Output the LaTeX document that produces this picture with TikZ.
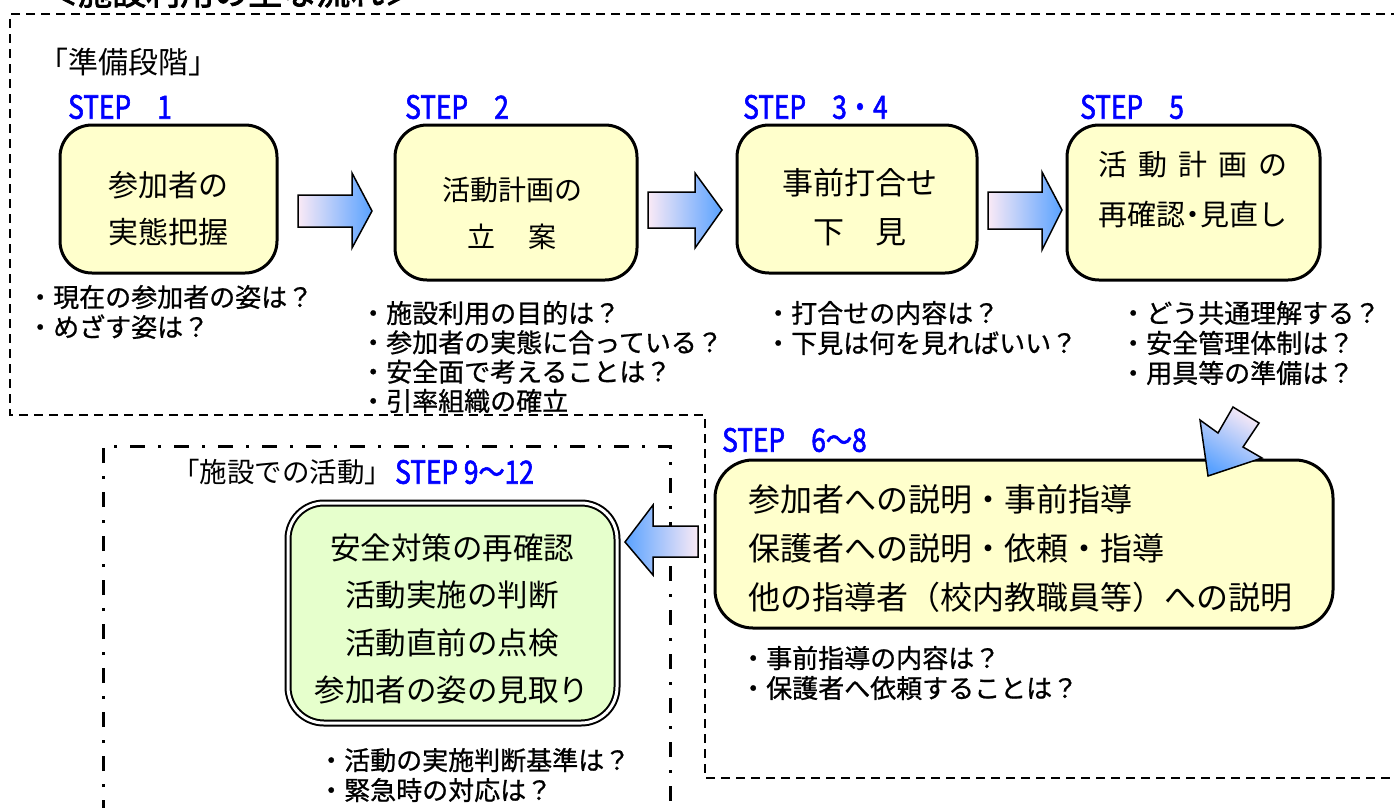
\documentclass[tikz,border=0pt]{standalone}
\usepackage{fontspec}
\setmainfont{Noto Sans CJK JP}
\newfontfamily\stepfont{Noto Sans CJK JP}[FakeBold=1.8,FakeStretch=0.82]
\newfontfamily\headfont{Noto Sans CJK JP}[FakeBold=2.5]
\newfontfamily\qfont{Noto Sans CJK JP}[FakeBold=0.8]
\usetikzlibrary{shadings}

\definecolor{boxyellow}{HTML}{FFFFCC}
\definecolor{boxgreen}{HTML}{E6FFCC}
\definecolor{stepblue}{HTML}{0000FF}
\definecolor{arrowpale}{HTML}{FAEAF6}
\definecolor{arrowblue}{HTML}{5AA2FF}

\tikzset{
    stepbox/.style={draw, line width=3pt, fill=boxyellow, rounded corners=32pt},
    boxtext/.style={align=center, inner sep=0pt, font=\fontsize{30}{47}\selectfont},
    qtext/.style={anchor=west, align=left, inner sep=0pt, font=\qfont\fontsize{26}{30}\selectfont},
    steplabel/.style={anchor=west, inner sep=0pt, text=stepblue, font=\stepfont\fontsize{32}{32}\selectfont},
    blockarrow/.style={draw, line width=1.5pt, line join=miter},
    outerline/.style={line width=2pt, dash pattern=on 9pt off 6pt},
    innerline/.style={line width=3pt, dash pattern=on 15pt off 13pt on 3pt off 13pt},
}

\begin{document}
\begin{tikzpicture}[x=1pt, y=-1pt]
                \useasboundingbox (0,0) rectangle (1394,807);

                % frames
                \draw[outerline] (1400,14) -- (10,14) -- (10,415) -- (705,415) -- (705,778) -- (1400,778);
                \draw[innerline] (103,815) -- (103,446) -- (670,446) -- (670,815);

                \node[anchor=west, inner sep=0pt, font=\headfont\fontsize{34}{34}\selectfont] (title) at (44,-8) {＜施設利用の主な流れ＞};
                \node[anchor=west, inner sep=0pt, font=\fontsize{30}{30}\selectfont] (prep) at (38,62) {「準備段階」};

                % step labels
                \node[steplabel] (s1) at (68,107) {STEP　1};
                \node[steplabel] (s2) at (405,107) {STEP　2};
                \node[steplabel] (s34) at (743,107) {STEP　3・4};
                \node[steplabel] (s5) at (1080,107) {STEP　5};
                \node[steplabel] (s68) at (722,440) {STEP　6〜8};
                \node[anchor=west, inner sep=0pt, font=\fontsize{27.5}{27.5}\selectfont] (onsite) at (172,472) {「施設での活動」};
                \node[steplabel] (s912) at (395,472) {STEP 9〜12};

                % boxes
                \node[stepbox, minimum width=217pt, minimum height=148pt] (box1) at (168.5,199) {};
                \node[stepbox, minimum width=242pt, minimum height=155pt] (box2) at (516,202.5) {};
                \node[stepbox, minimum width=240pt, minimum height=148pt] (box3) at (857,199) {};
                \node[stepbox, minimum width=253pt, minimum height=155pt] (box4) at (1193.5,202.5) {};
                \node[stepbox, minimum width=618pt, minimum height=168pt, rounded corners=38pt] (box5) at (1024,544) {};
                \node[draw, line width=2pt, double=white, double distance=3pt, fill=boxgreen, rounded corners=36pt,
                      minimum width=329pt, minimum height=220pt] (boxg) at (452.5,613) {};

                \node[boxtext] (t1) at ([yshift=-9.5pt]box1.center) {参加者の\\実態把握};
                \node[boxtext, font=\fontsize{28}{47}\selectfont] (t2) at ([xshift=-4pt, yshift=-11pt]box2.center) {活動計画の\\立\hspace{34pt}案};
                \node[boxtext, font=\fontsize{31}{49}\selectfont] (t3) at ([xshift=3pt, yshift=-8.5pt]box3.center) {事前打合せ\\下　見};
                \node[boxtext, anchor=west, align=left, font=\fontsize{29}{50}\selectfont] (t4) at (1098,190)
                     {活\hspace{11pt}動\hspace{11pt}計\hspace{11pt}画\hspace{11pt}の\\再確認\hspace{-7pt}・\hspace{-7pt}見直し};
                \node[boxtext, anchor=west, align=left, font=\fontsize{32}{49}\selectfont] (t5) at (748,549)
                     {参加者への説明・事前指導\\保護者への説明・依頼・指導\\他の指導者（校内教職員等）への説明};
                \node[boxtext, font=\fontsize{30.5}{47.3}\selectfont] (tg) at (452,619)
                     {安全対策の再確認\\活動実施の判断\\活動直前の点検\\参加者の姿の見取り};

                % questions
                \node[qtext] (q1) at (27,312) {・現在の参加者の姿は？\\・めざす姿は？};
                \node[qtext, font=\qfont\fontsize{26}{29.3}\selectfont] (q2) at (360,357)
                     {・施設利用の目的は？\\・参加者の実態に合っている？\\・安全面で考えることは？\\・引率組織の確立};
                \node[qtext] (q3) at (765,328) {・打合せの内容は？\\・下見は何を見ればいい？};
                \node[qtext] (q4) at (1120,343) {・どう共通理解する？\\・安全管理体制は？\\・用具等の準備は？};
                \node[qtext] (q5) at (740,673) {・事前指導の内容は？\\・保護者へ依頼することは？};
                \node[qtext] (q6) at (318,775) {・活動の実施判断基準は？\\・緊急時の対応は？};

                % block arrows
                \draw[blockarrow, left color=arrowpale, right color=arrowblue]
                     (298,195) -- (352,195) -- (352,173) -- (372,211) -- (352,248) -- (352,227) -- (298,227) -- cycle;
                \draw[blockarrow, left color=arrowpale, right color=arrowblue]
                     (648,192) -- (695,192) -- (695,173) -- (722,210) -- (695,248) -- (695,228) -- (648,228) -- cycle;
                \draw[blockarrow, left color=arrowpale, right color=arrowblue]
                     (988,192) -- (1042,192) -- (1042,172) -- (1062,210) -- (1042,250) -- (1042,229) -- (988,229) -- cycle;
                \draw[blockarrow, top color=arrowpale, bottom color=arrowblue, shading angle=-32]
                     (1208,476) -- (1200,420) -- (1218,433) -- (1233,407) -- (1259,423) -- (1243,447) -- (1262,458) -- cycle;
                \draw[blockarrow, left color=arrowblue, right color=arrowpale]
                     (625,542) -- (653,505) -- (653,526) -- (698,526) -- (698,557) -- (653,557) -- (653,575) -- cycle;
            \end{tikzpicture}
\end{document}
